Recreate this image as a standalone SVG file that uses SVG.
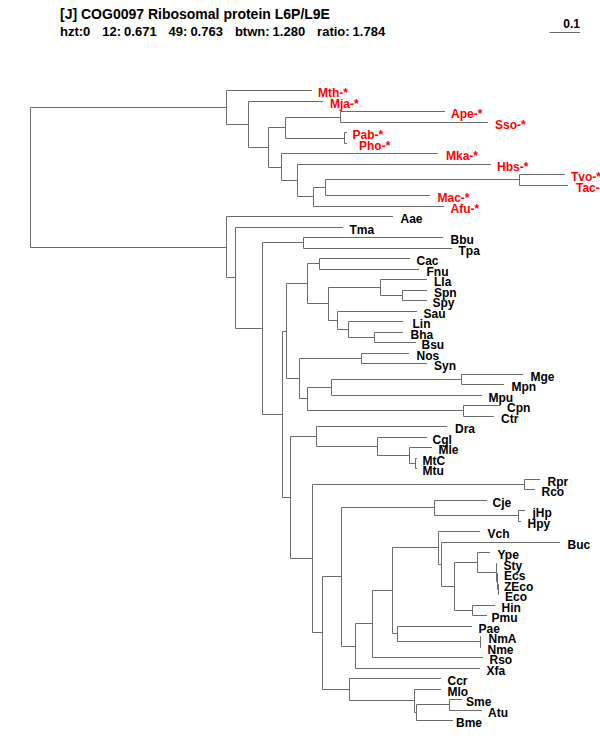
<svg xmlns="http://www.w3.org/2000/svg" width="600" height="750" viewBox="0 0 600 750">
<style>
text{font-family:"Liberation Sans",Arial,Helvetica,sans-serif;font-weight:bold}
.h{font-size:14px;fill:#000}
.h2{font-size:13px;fill:#000}
.l{font-size:12px;fill:#000}
.r{font-size:12px;fill:#ff0000}
.br{fill:none;stroke:#6b6b6b;stroke-width:1}
</style>
<rect width="600" height="750" fill="#fff"/>
<g id="header">
<text class="h" x="60" y="19">[J] COG0097 Ribosomal protein L6P/L9E</text>
<text class="h2" y="36"><tspan x="60">hzt:0</tspan><tspan x="102.3">12:</tspan><tspan x="124.1">0.671</tspan><tspan x="168.6">49:</tspan><tspan x="190.4">0.763</tspan><tspan x="234.9">btwn:</tspan><tspan x="272.6">1.280</tspan><tspan x="317.1">ratio:</tspan><tspan x="352.6">1.784</tspan></text>
</g>
<g id="scale">
<path class="br" d="M549.5 32.5H580"/>
<text class="l" x="580" y="28" text-anchor="end">0.1</text>
</g>
<g id="connectors">
<path class="br" d="M30.5 107.5V247.5 M30.5 107.5H226.5 M226.5 90.5V124.5 M226.5 90.5H312
M226.5 124.5H248.5 M248.5 101.5V147.5 M248.5 101.5H323
M248.5 147.5H268.5 M268.5 127.5V167.5
M268.5 127.5H285.5 M285.5 117.5V138.5
M285.5 117.5H340.5 M340.5 111.5V122.5 M340.5 111.5H445 M340.5 122.5H488
M285.5 138.5H344.5 M344.5 132.5V143.5 M344.5 132.5H347 M344.5 143.5H347
M268.5 167.5H281.5 M281.5 153.5V180.5 M281.5 153.5H438
M281.5 180.5H297.5 M297.5 164.5V196.5 M297.5 164.5H491
M297.5 196.5H313.5 M313.5 187.5V206.5
M313.5 187.5H325.5 M325.5 179.5V195.5
M325.5 179.5H519.5 M519.5 174.5V185.5 M519.5 174.5H565 M519.5 185.5H568
M325.5 195.5H430 M313.5 206.5H444"/>
<path class="br" d="M30.5 247.5H226.5 M226.5 216.5V277.5 M226.5 216.5H393
M226.5 277.5H235.5 M235.5 227.5V328.5 M235.5 227.5H343
M235.5 328.5H262.5 M262.5 242.5V414.5
M262.5 242.5H303.5 M303.5 237.5V248.5 M303.5 237.5H443 M303.5 248.5H452
M262.5 414.5H282.5 M282.5 331.5V497.5
M282.5 331.5H286.5 M286.5 283.5V378.5
M286.5 283.5H307.5 M307.5 263.5V303.5
M307.5 263.5H319.5 M319.5 258.5V269.5 M319.5 258.5H410 M319.5 269.5H419
M307.5 303.5H328.5 M328.5 287.5V320.5
M328.5 287.5H380.5 M380.5 279.5V295.5 M380.5 279.5H427
M380.5 295.5H402.5 M402.5 290.5V300.5 M402.5 290.5H427 M402.5 300.5H427
M328.5 320.5H337.5 M337.5 311.5V329.5 M337.5 311.5H417
M337.5 329.5H348.5 M348.5 321.5V337.5 M348.5 321.5H403
M348.5 337.5H374.5 M374.5 332.5V342.5 M374.5 332.5H403 M374.5 342.5H416
M286.5 378.5H299.5 M299.5 358.5V398.5
M299.5 358.5H361.5 M361.5 353.5V363.5 M361.5 353.5H409 M361.5 363.5H427
M299.5 398.5H307.5 M307.5 387.5V410.5
M307.5 387.5H331.5 M331.5 379.5V395.5
M331.5 379.5H461.5 M461.5 374.5V384.5 M461.5 374.5H523 M461.5 384.5H504
M331.5 395.5H482
M307.5 410.5H463.5 M463.5 405.5V416.5 M463.5 405.5H500 M463.5 416.5H494"/>
<path class="br" d="M282.5 497.5H290.5 M290.5 436.5V558.5
M290.5 436.5H316.5 M316.5 426.5V446.5 M316.5 426.5H447
M316.5 446.5H377.5 M377.5 437.5V455.5 M377.5 437.5H427
M377.5 455.5H409.5 M409.5 447.5V463.5 M409.5 447.5H432
M409.5 463.5H415.5 M415.5 458.5V468.5 M415.5 458.5H417 M415.5 468.5H417
M290.5 558.5H312.5 M312.5 484.5V632.5
M312.5 484.5H524.5 M524.5 479.5V489.5 M524.5 479.5H540 M524.5 489.5H535
M312.5 632.5H322.5 M322.5 576.5V689.5
M322.5 576.5H341.5 M341.5 507.5V646.5
M341.5 507.5H434.5 M434.5 500.5V515.5 M434.5 500.5H487
M434.5 515.5H518.5 M518.5 510.5V521.5 M518.5 510.5H525 M518.5 521.5H521
M341.5 646.5H355.5 M355.5 623.5V668.5
M355.5 623.5H372.5 M372.5 590.5V657.5
M372.5 590.5H392.5 M392.5 547.5V633.5
M392.5 547.5H438.5 M438.5 531.5V564.5 M438.5 531.5H480
M438.5 564.5H441.5 M441.5 542.5V586.5 M441.5 542.5H560
M441.5 586.5H454.5 M454.5 562.5V610.5
M454.5 562.5H477.5 M477.5 552.5V572.5 M477.5 552.5H490
M477.5 572.5H496.5 M496.5 563.5V581.5 M496.5 563.5H497
M496.5 581.5H497.5 M497.5 573.5V589.5 M497.5 573.5H498
M497.5 589.5H498.5 M498.5 584.5V594.5 M498.5 584.5H499 M498.5 594.5H499
M454.5 610.5H472.5 M472.5 605.5V615.5 M472.5 605.5H495 M472.5 615.5H487
M392.5 633.5H397.5 M397.5 626.5V641.5 M397.5 626.5H472
M397.5 641.5H480.5 M480.5 636.5V647.5 M480.5 636.5H481 M480.5 647.5H481
M372.5 657.5H483 M355.5 668.5H480
M322.5 689.5H349.5 M349.5 678.5V700.5 M349.5 678.5H441
M349.5 700.5H414.5 M414.5 689.5V712.5 M414.5 689.5H441
M414.5 712.5H416.5 M416.5 704.5V720.5
M416.5 704.5H449.5 M449.5 699.5V710.5 M449.5 699.5H462 M449.5 710.5H482
M416.5 720.5H453"/>
</g>
<g id="archaea">
<g id="n-Mth"><text class="r" x="318" y="96.5">Mth-*</text></g>
<g id="n-Mja"><text class="r" x="330" y="107.5">Mja-*</text></g>
<g id="n-Ape"><text class="r" x="451" y="117.5">Ape-*</text></g>
<g id="n-Sso"><text class="r" x="495" y="128.5">Sso-*</text></g>
<g id="n-Pab"><text class="r" x="352.5" y="138.5">Pab-*</text></g>
<g id="n-Pho"><text class="r" x="359" y="149.5">Pho-*</text></g>
<g id="n-Mka"><text class="r" x="446" y="159.5">Mka-*</text></g>
<g id="n-Hbs"><text class="r" x="497" y="170.5">Hbs-*</text></g>
<g id="n-Tvo"><text class="r" x="571" y="180.5">Tvo-*</text></g>
<g id="n-Tac"><text class="r" x="576" y="191.5">Tac-</text></g>
<g id="n-Mac"><text class="r" x="437.5" y="201.5">Mac-*</text></g>
<g id="n-Afu"><text class="r" x="450.5" y="212.5">Afu-*</text></g>
</g>
<g id="bacteria">
<g id="n-Aae"><text class="l" x="400.5" y="222.5">Aae</text></g>
<g id="n-Tma"><text class="l" x="349.5" y="233.5">Tma</text></g>
<g id="n-Bbu"><text class="l" x="450.5" y="243.5">Bbu</text></g>
<g id="n-Tpa"><text class="l" x="458.5" y="254.5">Tpa</text></g>
<g id="n-Cac"><text class="l" x="416.5" y="264.5">Cac</text></g>
<g id="n-Fnu"><text class="l" x="426.5" y="275.5">Fnu</text></g>
<g id="n-Lla"><text class="l" x="434" y="285.5">Lla</text></g>
<g id="n-Spn"><text class="l" x="434" y="296.5">Spn</text></g>
<g id="n-Spy"><text class="l" x="432.5" y="306.5">Spy</text></g>
<g id="n-Sau"><text class="l" x="423.5" y="317.5">Sau</text></g>
<g id="n-Lin"><text class="l" x="412.5" y="327.5">Lin</text></g>
<g id="n-Bha"><text class="l" x="410.5" y="338.5">Bha</text></g>
<g id="n-Bsu"><text class="l" x="421.5" y="348.5">Bsu</text></g>
<g id="n-Nos"><text class="l" x="416.5" y="359.5">Nos</text></g>
<g id="n-Syn"><text class="l" x="434" y="369.5">Syn</text></g>
<g id="n-Mge"><text class="l" x="530.5" y="380.5">Mge</text></g>
<g id="n-Mpn"><text class="l" x="511.5" y="390.5">Mpn</text></g>
<g id="n-Mpu"><text class="l" x="488.5" y="401.5">Mpu</text></g>
<g id="n-Cpn"><text class="l" x="507" y="411.5">Cpn</text></g>
<g id="n-Ctr"><text class="l" x="501" y="422.5">Ctr</text></g>
<g id="n-Dra"><text class="l" x="455" y="432.5">Dra</text></g>
<g id="n-Cgl"><text class="l" x="432.5" y="443.5">Cgl</text></g>
<g id="n-Mle"><text class="l" x="438.5" y="453.5">Mle</text></g>
<g id="n-MtC"><text class="l" x="422.5" y="464.5">MtC</text></g>
<g id="n-Mtu"><text class="l" x="422.5" y="474.5">Mtu</text></g>
<g id="n-Rpr"><text class="l" x="547.5" y="485.5">Rpr</text></g>
<g id="n-Rco"><text class="l" x="541.5" y="495.5">Rco</text></g>
<g id="n-Cje"><text class="l" x="492.5" y="506.5">Cje</text></g>
<g id="n-jHp"><text class="l" x="532.5" y="516.5">jHp</text></g>
<g id="n-Hpy"><text class="l" x="527.5" y="527.5">Hpy</text></g>
<g id="n-Vch"><text class="l" x="487.5" y="537.5">Vch</text></g>
<g id="n-Buc"><text class="l" x="567.5" y="548.5">Buc</text></g>
<g id="n-Ype"><text class="l" x="497.5" y="558.5">Ype</text></g>
<g id="n-Sty"><text class="l" x="503.5" y="569.5">Sty</text></g>
<g id="n-Ecs"><text class="l" x="504" y="579.5">Ecs</text></g>
<g id="n-ZEco"><text class="l" x="504" y="590.5">ZEco</text></g>
<g id="n-Eco"><text class="l" x="505" y="600.5">Eco</text></g>
<g id="n-Hin"><text class="l" x="501.5" y="611.5">Hin</text></g>
<g id="n-Pmu"><text class="l" x="491.5" y="621.5">Pmu</text></g>
<g id="n-Pae"><text class="l" x="478.5" y="632.5">Pae</text></g>
<g id="n-NmA"><text class="l" x="488.5" y="642.5">NmA</text></g>
<g id="n-Nme"><text class="l" x="487.5" y="653.5">Nme</text></g>
<g id="n-Rso"><text class="l" x="489.5" y="663.5">Rso</text></g>
<g id="n-Xfa"><text class="l" x="486.5" y="674.5">Xfa</text></g>
<g id="n-Ccr"><text class="l" x="447.5" y="684.5">Ccr</text></g>
<g id="n-Mlo"><text class="l" x="447.5" y="695.5">Mlo</text></g>
<g id="n-Sme"><text class="l" x="466" y="705.5">Sme</text></g>
<g id="n-Atu"><text class="l" x="488" y="716.5">Atu</text></g>
<g id="n-Bme"><text class="l" x="456" y="726.5">Bme</text></g>
</g>
</svg>
